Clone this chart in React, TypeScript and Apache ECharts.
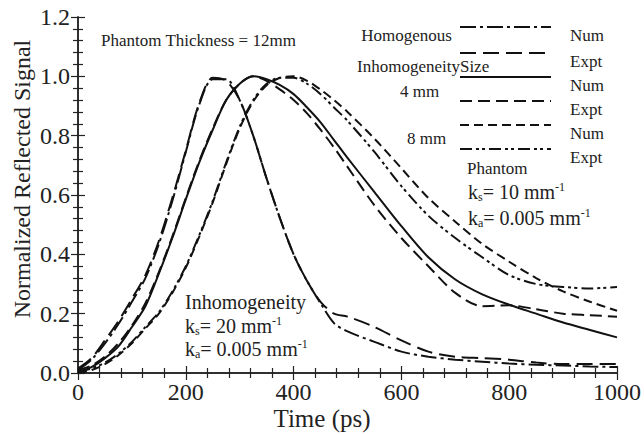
import React, { useEffect, useRef } from "react";
import * as echarts from "echarts";

const times = [0, 25, 50, 75, 100, 125, 150, 175, 200, 225, 250, 275, 300, 325, 350, 375, 400, 425, 450, 475, 500, 550, 600, 650, 700, 750, 800, 850, 900, 950, 1000];

const homNum = [0.01, 0.045, 0.1, 0.165, 0.24, 0.32, 0.435, 0.58, 0.745, 0.905, 0.99, 0.99, 0.92, 0.8, 0.655, 0.52, 0.4, 0.31, 0.235, 0.168, 0.14, 0.105, 0.072, 0.055, 0.045, 0.038, 0.032, 0.028, 0.025, 0.022, 0.02];
const homExpt = [0.015, 0.05, 0.11, 0.175, 0.25, 0.33, 0.445, 0.59, 0.75, 0.91, 0.995, 0.985, 0.92, 0.8, 0.655, 0.52, 0.4, 0.31, 0.24, 0.2, 0.19, 0.155, 0.11, 0.072, 0.055, 0.05, 0.045, 0.035, 0.03, 0.03, 0.03];
const mm4Num = [0.005, 0.02, 0.05, 0.09, 0.155, 0.225, 0.335, 0.455, 0.585, 0.71, 0.82, 0.92, 0.975, 1.0, 0.99, 0.97, 0.94, 0.895, 0.845, 0.785, 0.725, 0.61, 0.495, 0.39, 0.315, 0.265, 0.23, 0.2, 0.17, 0.145, 0.12];
const mm4Expt = [0.01, 0.025, 0.055, 0.1, 0.16, 0.235, 0.34, 0.46, 0.59, 0.715, 0.825, 0.92, 0.975, 1.0, 0.985, 0.955, 0.92, 0.875, 0.82, 0.76, 0.695, 0.565, 0.455, 0.36, 0.27, 0.225, 0.228, 0.215, 0.2, 0.195, 0.19];
const mm8Num = [0.0, 0.01, 0.03, 0.06, 0.1, 0.15, 0.2, 0.27, 0.355, 0.46, 0.575, 0.705, 0.825, 0.915, 0.97, 0.995, 1.0, 0.985, 0.955, 0.92, 0.88, 0.79, 0.69, 0.59, 0.51, 0.435, 0.375, 0.32, 0.275, 0.24, 0.21];
const mm8Expt = [0.005, 0.015, 0.035, 0.065, 0.105, 0.155, 0.205, 0.275, 0.36, 0.465, 0.58, 0.71, 0.83, 0.92, 0.975, 0.995, 0.995, 0.975, 0.94, 0.895, 0.85, 0.745, 0.63, 0.53, 0.455, 0.39, 0.33, 0.3, 0.29, 0.285, 0.29];

const xTicks = [0, 200, 400, 600, 800, 1000];
const yTicks = [0.0, 0.2, 0.4, 0.6, 0.8, 1.0, 1.2];

const seriesDefs = [
  { name: "Homogenous Num", data: homNum, dash: [16, 4, 3, 4] as any },
  { name: "Homogenous Expt", data: homExpt, dash: [16, 7] as any },
  { name: "4 mm Num", data: mm4Num, dash: "solid" as any },
  { name: "4 mm Expt", data: mm4Expt, dash: [12, 6] as any },
  { name: "8 mm Num", data: mm8Num, dash: [9, 5] as any },
  { name: "8 mm Expt", data: mm8Expt, dash: [12, 4, 3, 3, 3, 4] as any },
];

const FONT = "'Liberation Serif', 'Times New Roman', serif";

export default function App() {
  const ref = useRef<HTMLDivElement>(null);
  useEffect(() => {
    document.body.style.margin = "0";
    const chart = echarts.init(ref.current!, null, { renderer: "svg" });
    const axisCommon = {
      axisLine: { show: true, lineStyle: { color: "#222", width: 1.5 } },
      axisTick: { show: true, inside: true, length: 7, lineStyle: { color: "#222", width: 1.2 } },
      minorTick: { show: true, splitNumber: 5, length: 5, lineStyle: { color: "#222", width: 1.2 } },
      splitLine: { show: false },
      minorSplitLine: { show: false },
    };
    const legendY = [27, 53, 77, 101, 125, 149];
    const legendLabels = ["Num", "Expt", "Num", "Expt", "Num", "Expt"];
    const txt = (text: string, x: number, y: number, size: number, align = "left") => ({
      type: "text",
      x,
      y,
      style: { text, fontSize: size, fontFamily: FONT, fill: "#222", align, verticalAlign: "middle" },
    });
    const rich = (k: string, sub: string, rest: string, x: number, y: number) => ({
      type: "text",
      x,
      y,
      style: {
        text: `{k|${k}}{s|${sub}}{t|${rest}}{p|-1}`,
        fill: "#222",
        verticalAlign: "middle",
        rich: {
          k: { fontSize: 20, fontFamily: FONT, fill: "#222", lineHeight: 22, verticalAlign: "middle" },
          s: { fontSize: 12, fontFamily: FONT, fill: "#222", lineHeight: 22, verticalAlign: "bottom" },
          t: { fontSize: 20, fontFamily: FONT, fill: "#222", lineHeight: 22, verticalAlign: "middle" },
          p: { fontSize: 12, fontFamily: FONT, fill: "#222", lineHeight: 22, verticalAlign: "top" },
        },
      },
    });
    const graphics: any[] = [
      txt("Phantom Thickness = 12mm", 101, 40, 17),
      txt("Homogenous", 452, 35, 17, "right"),
      txt("InhomogeneitySize", 357, 66, 17),
      txt("4 mm", 400, 91, 17),
      txt("8 mm", 407, 138, 17),
      txt("Phantom", 467, 168, 17),
      rich("k", "s", "= 10 mm", 468, 192),
      rich("k", "a", "= 0.005 mm", 468, 218),
      txt("Inhomogeneity", 185, 302, 20),
      rich("k", "s", "= 20 mm", 185, 326),
      rich("k", "a", "= 0.005 mm", 185, 349),
      {
        type: "text",
        x: 22,
        y: 179,
        rotation: Math.PI / 2,
        style: { text: "Normalized Reflected Signal", fontSize: 24, fontFamily: FONT, fill: "#222", align: "center", verticalAlign: "middle" },
      },
      txt("Time (ps)", 322, 418, 25, "center"),
    ];
    seriesDefs.forEach((s, i) => {
      graphics.push({
        type: "line",
        shape: { x1: 460, y1: legendY[i], x2: 551, y2: legendY[i] },
        style: { stroke: "#111", lineWidth: 2, lineDash: s.dash === "solid" ? null : s.dash },
      });
      graphics.push(txt(legendLabels[i], 570, legendY[i] + 8, 17));
    });
    const option: any = {
      animation: false,
      backgroundColor: "#fff",
      grid: { left: 78, right: 26, top: 17, bottom: 62 },
      xAxis: [
        {
          type: "value",
          min: xTicks[0],
          max: xTicks[xTicks.length - 1],
          interval: 200,
          position: "bottom",
          axisLabel: { fontSize: 24, fontFamily: FONT, color: "#222", margin: 7, formatter: (v: number) => String(v) },
          ...axisCommon,
        },
        {
          type: "value",
          min: xTicks[0],
          max: xTicks[xTicks.length - 1],
          interval: 200,
          position: "top",
          axisLabel: { show: false },
          ...axisCommon,
        },
      ],
      yAxis: [
        {
          type: "value",
          min: yTicks[0],
          max: yTicks[yTicks.length - 1],
          interval: 0.2,
          position: "left",
          axisLabel: { fontSize: 24, fontFamily: FONT, color: "#222", margin: 8, formatter: (v: number) => v.toFixed(1) },
          ...axisCommon,
        },
        {
          type: "value",
          min: yTicks[0],
          max: yTicks[yTicks.length - 1],
          interval: 0.2,
          position: "right",
          axisLabel: { show: false },
          ...axisCommon,
        },
      ],
      series: seriesDefs.map((s) => ({
        name: s.name,
        type: "line",
        xAxisIndex: 0,
        yAxisIndex: 0,
        showSymbol: false,
        symbol: "none",
        smooth: 0.3,
        data: times.map((t, i) => [t, s.data[i]]),
        lineStyle: { color: "#111", width: 2, type: s.dash },
      })),
      graphic: graphics,
    };
    chart.setOption(option);
    return () => chart.dispose();
  }, []);
  return <div ref={ref} style={{ width: 644, height: 435 }} />;
}
